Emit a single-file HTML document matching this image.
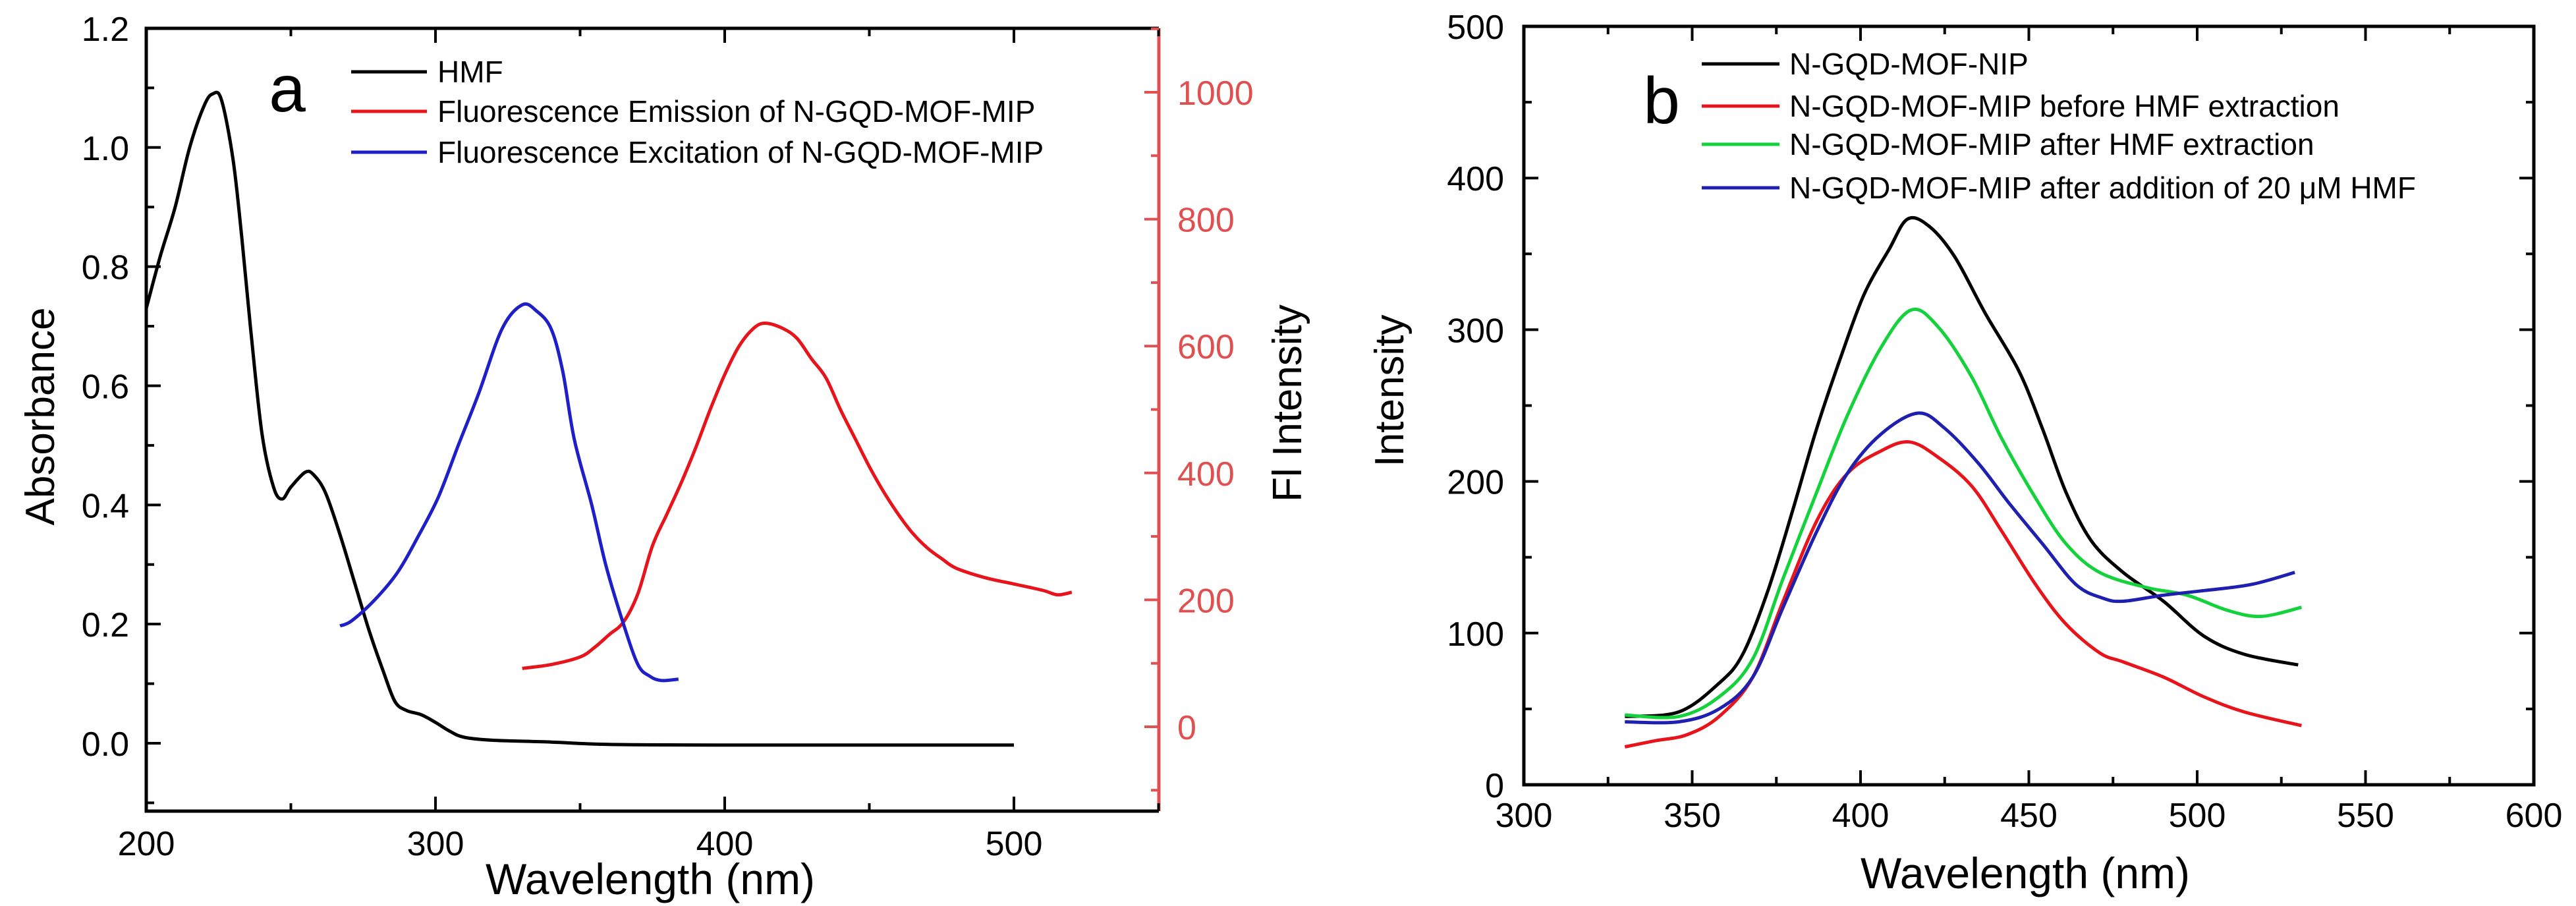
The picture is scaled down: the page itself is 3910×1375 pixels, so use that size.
<!DOCTYPE html>
<html><head><meta charset="utf-8"><style>
html,body{margin:0;padding:0;background:#fff;}
svg{display:block;font-family:"Liberation Sans",Arial,sans-serif;}
</style></head><body>
<svg id="fig" width="3910" height="1375" viewBox="0 0 3910 1375" xmlns="http://www.w3.org/2000/svg">
<g id="pa"></g>
<g id="pb"></g>
</svg>
<script>
// Panel a data
const hmfX=[200,205,210,215,220,223,226,230,233,236,240,244,247,250,255,258,262,267,272,277,282,286,290,295,300,305,310,320,340,360,400,500];
const hmfY=[0.73,0.82,0.9,1.0,1.07,1.09,1.08,0.98,0.85,0.7,0.52,0.43,0.41,0.43,0.455,0.45,0.42,0.35,0.27,0.19,0.12,0.07,0.055,0.048,0.035,0.02,0.01,0.005,0.002,-0.002,-0.003,-0.003];
const emX=[330,340,350,355,360,365,370,375,380,385,390,395,400,405,410,414,420,425,430,435,440,445,450,455,460,465,470,475,480,490,500,510,515,520];
const emY=[92,98,110,125,145,165,210,285,335,385,440,500,555,600,628,636,628,612,580,550,500,455,410,370,335,305,282,265,250,235,225,215,208,212];
const exX=[267,271,279,287,294,301,308,315,323,330,335,340,344,348,354,359,365,370,374,378,384];
const exY=[159,167,200,244,300,362,445,526,627,665,655,627,560,453,350,253,162,98,80,73,75];
const aXTicks=[200,300,400,500];
const aYTicks=[0.0,0.2,0.4,0.6,0.8,1.0,1.2];
const aY2Ticks=[0,200,400,600,800,1000];
// Panel b data
const bX1=[330,346,358,365,372.5,380,387,394,401,408.5,414,420.5,428,437,447,454,461,468.5,478,490,502,514,530];
const bNip=[45,48,67,86,128,182,235,281,323,353,373,368,348,311,273,235,193,161,140,121,98,86,79];
const bX2=[330,346,358,368,377,387,396,406,415,423,433,442,452,461,471,485,497,509,519,531];
const bAfter=[46,45,58,83,136,193,243,288,313,302,269,228,189,159,140,130,125,115,111,117];
const bX3=[330,339,348.5,358,368,377,387,396,406,414.5,423,433,442,452,461,471,478,490,502,514,531];
const bBefore=[25,29,33,45,71,121,174,205,220,226,216,197,167,132,106,87,81,71,58,48,39];
const bX4=[330,346,358,368,377,387,396,406,417,425,435,444,454,464,472,478,490,502,516,529];
const bAdd=[41.5,41.5,50,71,117,167,205,231,245,235,212,186,159,132,123,121,125,128,132,140];
const bXTicks=[300,350,400,450,500,550,600];
const bYTicks=[0,100,200,300,400,500];

const NS="http://www.w3.org/2000/svg";
function mk(parent,tag,attrs){const e=document.createElementNS(NS,tag);for(const k in attrs)e.setAttribute(k,attrs[k]);parent.appendChild(e);return e;}
function txt(parent,x,y,s,size,anchor,fill){const t=mk(parent,'text',{x:x,y:y,'font-size':size,'text-anchor':anchor,fill:fill||'#000'});t.textContent=s;return t;}

// ---- Panel a ----
const pa=document.getElementById('pa');
const aL=222,aR=1759,aT=43,aB=1231;
const ax=v=>aL+(v-200)*4.39;
const ay=v=>1128-v*904.2;
const ay2=v=>1103-v*0.963;
function line(parent,xs,ys,fx,fy,col,name){
  const P=xs.map((v,i)=>[fx(v),fy(ys[i])]);
  let d='M'+P[0][0].toFixed(1)+' '+P[0][1].toFixed(1);
  for(let i=0;i<P.length-1;i++){
    const p0=P[Math.max(0,i-1)],p1=P[i],p2=P[i+1],p3=P[Math.min(P.length-1,i+2)];
    const c1x=p1[0]+(p2[0]-p0[0])/6,c1y=p1[1]+(p2[1]-p0[1])/6;
    const c2x=p2[0]-(p3[0]-p1[0])/6,c2y=p2[1]-(p3[1]-p1[1])/6;
    d+=` C${c1x.toFixed(1)} ${c1y.toFixed(1)} ${c2x.toFixed(1)} ${c2y.toFixed(1)} ${p2[0].toFixed(1)} ${p2[1].toFixed(1)}`;
  }
  const p=mk(parent,'path',{d:d,fill:'none',stroke:col,'stroke-width':5,'stroke-linejoin':'round'});
  
  
  return p;
}
line(pa,hmfX,hmfY,ax,ay,'#000','hmf-absorbance-line');
line(pa,emX,emY,ax,ay2,'#e8141c','emission-line');
line(pa,exX,exY,ax,ay2,'#1f1fc8','excitation-line');
const fa=mk(pa,'path',{d:`M${aR} ${aT} L${aL} ${aT} L${aL} ${aB} L${aR} ${aB}`,fill:'none',stroke:'#000','stroke-width':5});


const fr=mk(pa,'line',{x1:aR,y1:aT,x2:aR,y2:aB,stroke:'#e05050','stroke-width':5});


for(let v=200;v<=550;v+=50){const maj=v%100===0;const L=maj?22:12;
  mk(pa,'line',{x1:ax(v),y1:aB,x2:ax(v),y2:aB-L,stroke:'#000','stroke-width':4});
  mk(pa,'line',{x1:ax(v),y1:aT,x2:ax(v),y2:aT+L,stroke:'#000','stroke-width':4});}
aXTicks.forEach(v=>{const t=txt(pa,ax(v),1298,String(v),52,'middle');
  
  });
for(let i=-1;i<=12;i++){const v=i/10;const maj=i%2===0;const L=maj?22:12;const y=ay(v);if(y<aT||y>aB)continue;
  mk(pa,'line',{x1:aL,y1:y,x2:aL+L,y2:y,stroke:'#000','stroke-width':4});}
aYTicks.forEach(v=>{const t=txt(pa,196,ay(v)+19,v.toFixed(1),52,'end');
  
  });
for(let v=-100;v<=1100;v+=100){const maj=v%200===0;const L=maj?22:12;const y=ay2(v);if(y<aT||y>aB)continue;
  mk(pa,'line',{x1:aR,y1:y,x2:aR-L,y2:y,stroke:'#e05050','stroke-width':4});}
aY2Ticks.forEach(v=>{const t=txt(pa,1787,ay2(v)+19,String(v),52,'start','#e05050');
  
  });
let t=txt(pa,987,1357,'Wavelength (nm)',66,'middle');

t=txt(pa,0,0,'Absorbance',62,'middle');t.setAttribute('transform','translate(82,632) rotate(-90)');

t=txt(pa,0,0,'Fl Intensity',62,'middle');t.setAttribute('transform','translate(1975,612) rotate(-90)');

t=txt(pa,436,169,'a',100,'middle');

const legA=[['HMF','#000',109],['Fluorescence Emission of N-GQD-MOF-MIP','#e8141c',169],['Fluorescence Excitation of N-GQD-MOF-MIP','#1f1fc8',231]];
legA.forEach(r=>{const g=mk(pa,'g',{});
  mk(g,'line',{x1:533,y1:r[2],x2:648,y2:r[2],stroke:r[1],'stroke-width':5});
  txt(g,664,r[2]+16,r[0],46,'start');});

// ---- Panel b ----
const pb=document.getElementById('pb');
const bL=2313,bR=3846,bT=40,bB=1191;
const bx=v=>bL+(v-300)*5.11;
const by=v=>bB-v*2.302;
line(pb,bX1,bNip,bx,by,'#000','nip-line');
line(pb,bX3,bBefore,bx,by,'#e8141c','before-extraction-line');
line(pb,bX2,bAfter,bx,by,'#14d23c','after-extraction-line');
line(pb,bX4,bAdd,bx,by,'#1f1fb0','after-addition-line');
const fb=mk(pb,'rect',{x:bL,y:bT,width:bR-bL,height:bB-bT,fill:'none',stroke:'#000','stroke-width':5});


for(let v=300;v<=600;v+=25){const maj=v%50===0;const L=maj?22:12;
  mk(pb,'line',{x1:bx(v),y1:bB,x2:bx(v),y2:bB-L,stroke:'#000','stroke-width':4});
  mk(pb,'line',{x1:bx(v),y1:bT,x2:bx(v),y2:bT+L,stroke:'#000','stroke-width':4});}
bXTicks.forEach(v=>{const tt=txt(pb,bx(v),1255,String(v),52,'middle');
  
  });
for(let v=0;v<=500;v+=50){const maj=v%100===0;const L=maj?22:12;
  mk(pb,'line',{x1:bL,y1:by(v),x2:bL+L,y2:by(v),stroke:'#000','stroke-width':4});
  mk(pb,'line',{x1:bR,y1:by(v),x2:bR-L,y2:by(v),stroke:'#000','stroke-width':4});}
bYTicks.forEach(v=>{const tt=txt(pb,2283,by(v)+19,String(v),52,'end');
  
  });
t=txt(pb,3074,1348,'Wavelength (nm)',66,'middle');

t=txt(pb,0,0,'Intensity',62,'middle');t.setAttribute('transform','translate(2130,593) rotate(-90)');

t=txt(pb,2522,187,'b',100,'middle');

const legB=[['N-GQD-MOF-NIP','#000',97],['N-GQD-MOF-MIP before HMF extraction','#e8141c',161],['N-GQD-MOF-MIP after HMF extraction','#14d23c',219],['N-GQD-MOF-MIP after addition of 20 \u03bcM HMF','#1f1fb0',285]];
legB.forEach(r=>{const g=mk(pb,'g',{});
  mk(g,'line',{x1:2583,y1:r[2],x2:2701,y2:r[2],stroke:r[1],'stroke-width':5});
  txt(g,2716,r[2]+16,r[0],46,'start');});
</script>
</body></html>
